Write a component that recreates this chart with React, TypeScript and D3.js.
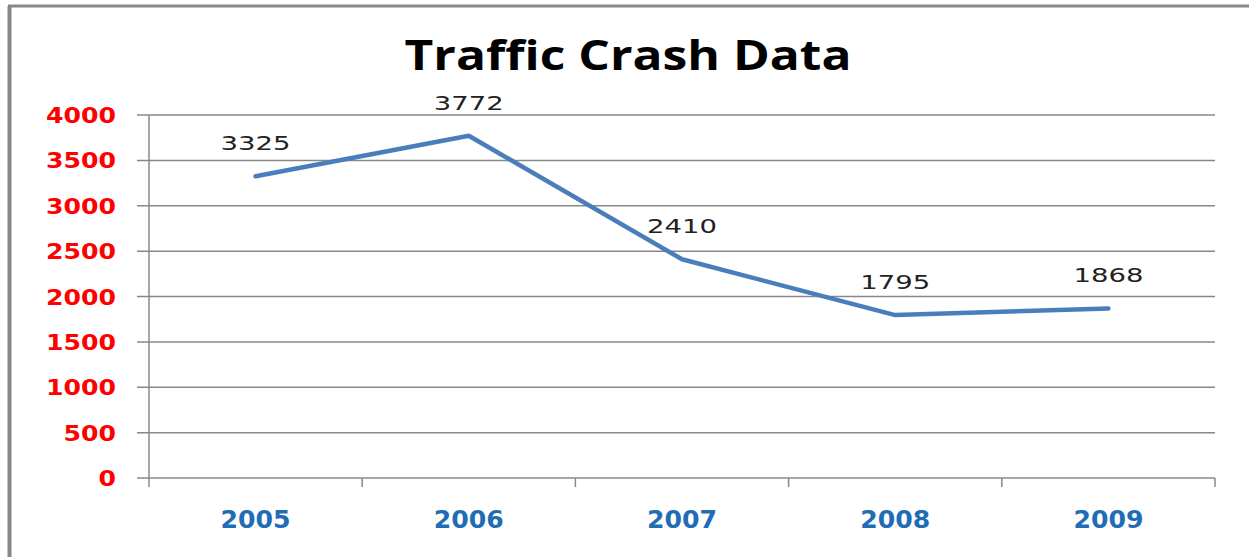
import React from "react";
import * as d3 from "d3";

const years = ["2005", "2006", "2007", "2008", "2009"];
const crashes = [3325, 3772, 2410, 1795, 1868];
const yTicks = [0, 500, 1000, 1500, 2000, 2500, 3000, 3500, 4000];
const title = "Traffic Crash Data";

const W = 1249;
const H = 557;
const plot = { left: 149, right: 1215, top: 115, bottom: 478 };

export default function App() {
  const x = d3.scaleBand<string>().domain(years).range([plot.left, plot.right]).padding(0);
  const y = d3.scaleLinear().domain([0, 4000]).range([plot.bottom, plot.top]);
  const cx = (d: string) => (x(d) as number) + x.bandwidth() / 2;
  const line = d3
    .line<number>()
    .x((_, i) => cx(years[i]))
    .y((v) => y(v));
  const edges = [...years.map((d) => x(d) as number), plot.right];
  const charW = 17.5;

  return (
    <svg
      width={W}
      height={H}
      style={{ position: "absolute", left: 0, top: 0, background: "#fff" }}
    >
      <rect x={0} y={0} width={W} height={H} fill="#fff" />
      {/* chart frame */}
      <line x1={9.5} y1={6} x2={9.5} y2={H} stroke="#888" strokeWidth={4} />
      <line x1={8} y1={6} x2={W} y2={6} stroke="#888" strokeWidth={3} />

      <text
        x={628}
        y={70}
        textAnchor="middle"
        fontFamily="'Open Sans', 'Liberation Sans', sans-serif"
        fontWeight="bold"
        fontSize={42}
        fill="#000"
        textLength={447}
        lengthAdjust="spacingAndGlyphs"
      >
        {title}
      </text>

      {/* gridlines */}
      {yTicks.map((t) => (
        <line
          key={"g" + t}
          x1={137}
          x2={plot.right}
          y1={y(t)}
          y2={y(t)}
          stroke="#888"
          strokeWidth={1.5}
        />
      ))}
      {/* y axis */}
      <line x1={plot.left} x2={plot.left} y1={plot.top} y2={plot.bottom} stroke="#888" strokeWidth={1.5} />
      {/* x ticks */}
      {edges.map((e, i) => (
        <line key={"xt" + i} x1={e} x2={e} y1={plot.bottom} y2={487} stroke="#888" strokeWidth={1.5} />
      ))}

      {/* y labels */}
      {yTicks.map((t) => (
        <text
          key={"yl" + t}
          x={116}
          y={y(t) + 8}
          textAnchor="end"
          fontFamily="'DejaVu Sans', sans-serif"
          fontWeight="bold"
          fontSize={22}
          fill="#ff0000"
          textLength={String(t).length * charW}
          lengthAdjust="spacingAndGlyphs"
        >
          {t}
        </text>
      ))}

      {/* x labels */}
      {years.map((d) => (
        <text
          key={"xl" + d}
          x={cx(d)}
          y={528}
          textAnchor="middle"
          fontFamily="'DejaVu Sans', sans-serif"
          fontWeight="bold"
          fontSize={24}
          fill="#1f6db4"
          textLength={d.length * charW}
          lengthAdjust="spacingAndGlyphs"
        >
          {d}
        </text>
      ))}

      {/* series line */}
      <path
        d={line(crashes) as string}
        fill="none"
        stroke="#4a7ebb"
        strokeWidth={4.5}
        strokeLinejoin="round"
        strokeLinecap="round"
      />

      {/* data labels */}
      {crashes.map((v, i) => (
        <text
          key={"dl" + i}
          x={cx(years[i])}
          y={y(v) - 26}
          textAnchor="middle"
          fontFamily="'DejaVu Sans', sans-serif"
          fontSize={20}
          fill="#222"
          textLength={String(v).length * charW}
          lengthAdjust="spacingAndGlyphs"
        >
          {v}
        </text>
      ))}
    </svg>
  );
}
